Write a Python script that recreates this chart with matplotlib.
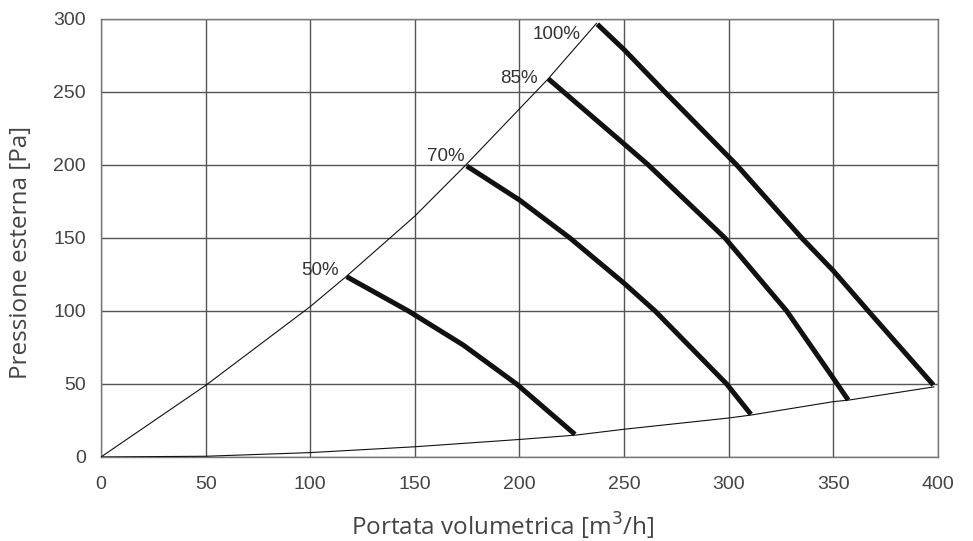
import matplotlib.pyplot as plt

# limite superiore (curva impianto max)
upper_x = [0, 50, 100, 117.5, 150, 174, 213.7, 236.8]
upper_y = [0, 49, 103, 124, 165, 199.5, 259, 297]

# limite inferiore
lower_x = [0, 50, 100, 150, 200, 227, 250, 300, 311, 350, 357.5, 398]
lower_y = [0, 0.5, 3, 7, 12, 15, 19, 26.7, 28.8, 37.9, 39, 48]

# curve ventilatore
speeds = ['50%', '70%', '85%', '100%']
curve_x = [
    [117.4, 146.9, 173.1, 198.6, 226.5],
    [174.8, 200, 224.1, 250, 264.8, 299, 310.6],
    [213.8, 250, 261.6, 298.2, 327.7, 350, 357.1],
    [237.2, 250, 269.5, 303.8, 334.9, 350, 366.7, 397.8],
]
curve_y = [
    [123.5, 100, 76.7, 50, 15.5],
    [199.3, 176, 150, 119, 100, 50, 29.2],
    [259, 214.4, 200, 150, 100, 53.9, 39],
    [296.4, 279, 250, 200, 150, 127.5, 100, 49.3],
]
# posizione etichette (offset in pixel dal punto iniziale)
label_off = [(-8, 6), (-2, 10), (-11, 0), (-17, -10)]

plt.rcParams['font.family'] = ['Liberation Sans', 'DejaVu Sans']

fig = plt.figure(figsize=(9.73, 5.41), dpi=100)
ax = fig.add_axes([0.1038, 0.1553, 0.964 - 0.1038, 0.9649 - 0.1553])

ax.plot(upper_x, upper_y, color='#111111', lw=0.8, zorder=3)
ax.plot(lower_x, lower_y, color='#111111', lw=0.8, zorder=3)

for name, xs, ys, off in zip(speeds, curve_x, curve_y, label_off):
    ax.plot(xs, ys, color='#111111', lw=3.6, solid_capstyle='butt',
            solid_joinstyle='round', zorder=4)
    ax.annotate(name, (xs[0], ys[0]), xytext=off, textcoords='offset pixels',
                ha='right', va='center', fontsize=13.5, color='#333333')

ax.set_xlim(0, 400)
ax.set_ylim(0, 300)
ax.set_xticks(range(0, 401, 50))
ax.set_yticks(range(0, 301, 50))
ax.grid(True, color='#555555', lw=1)
ax.set_axisbelow(True)
for s in ax.spines.values():
    s.set_color('#777777')
    s.set_linewidth(1)
ax.tick_params(length=0, labelsize=14, labelcolor='#444444')
ax.tick_params(axis='x', pad=14)
ax.tick_params(axis='y', pad=11)

ax.set_xlabel('Portata volumetrica [m$^3$/h]', family='Open Sans', fontsize=17.5,
              color='#444444')
ax.xaxis.set_label_coords(0.48, -0.124)
ax.set_ylabel('Pressione esterna [Pa]', family='Open Sans', fontsize=17.5,
              color='#444444')
ax.yaxis.set_label_coords(-0.081, 0.468)

fig.savefig('out.png', dpi=100)
